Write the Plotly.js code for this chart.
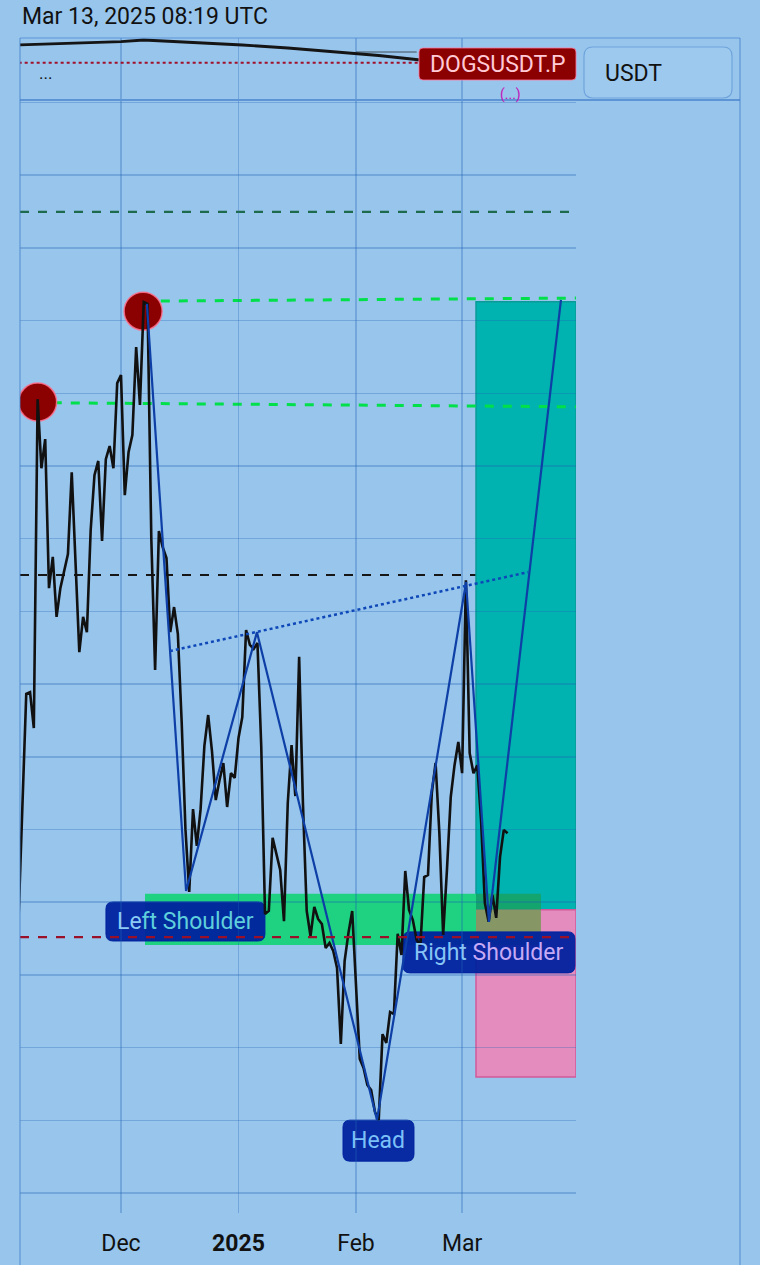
<!DOCTYPE html>
<html>
<head>
<meta charset="utf-8">
<script src="https://cdn.plot.ly/plotly-3.0.1.min.js"></script>
<style>
html,body{margin:0;padding:0;background:#98c5ec;}
#chart{width:760px;height:1265px;}
</style>
</head>
<body>
<div id="chart"></div>
<script>
// ---------- DATA (price in micro-USDT, i.e. x 1e-6) ----------
const dates = [
"2024-11-04","2024-11-06","2024-11-07","2024-11-08","2024-11-09","2024-11-10","2024-11-11","2024-11-12","2024-11-13","2024-11-14",
"2024-11-15","2024-11-17","2024-11-18","2024-11-20","2024-11-21","2024-11-22","2024-11-23","2024-11-24","2024-11-25","2024-11-26",
"2024-11-27","2024-11-28","2024-11-29","2024-11-30","2024-12-01","2024-12-02","2024-12-03","2024-12-04","2024-12-05","2024-12-06",
"2024-12-07","2024-12-08","2024-12-09","2024-12-10","2024-12-11","2024-12-12","2024-12-13","2024-12-14","2024-12-15","2024-12-16",
"2024-12-17","2024-12-18","2024-12-19","2024-12-20","2024-12-21","2024-12-22","2024-12-23","2024-12-24","2024-12-25","2024-12-26",
"2024-12-27","2024-12-28","2024-12-29","2024-12-30","2024-12-31","2025-01-01","2025-01-02","2025-01-03","2025-01-04","2025-01-05",
"2025-01-06","2025-01-07","2025-01-08","2025-01-09","2025-01-10","2025-01-12","2025-01-13","2025-01-14","2025-01-15","2025-01-16",
"2025-01-17","2025-01-18","2025-01-19","2025-01-20","2025-01-21","2025-01-22","2025-01-23","2025-01-24","2025-01-25","2025-01-26",
"2025-01-27","2025-01-28","2025-01-29","2025-01-30","2025-01-31","2025-02-01","2025-02-02","2025-02-03","2025-02-04","2025-02-05",
"2025-02-06","2025-02-07","2025-02-08","2025-02-09","2025-02-10","2025-02-11","2025-02-12","2025-02-13","2025-02-14","2025-02-15",
"2025-02-16","2025-02-17","2025-02-18","2025-02-19","2025-02-20","2025-02-21","2025-02-22","2025-02-23","2025-02-24","2025-02-25",
"2025-02-26","2025-02-27","2025-02-28","2025-03-01","2025-03-02","2025-03-03","2025-03-04","2025-03-05","2025-03-06","2025-03-07",
"2025-03-08","2025-03-09","2025-03-10","2025-03-11","2025-03-12","2025-03-13"];
const closes = [
176.5,237.3,237.8,227.9,318.4,299.4,307.4,266.4,275.0,258.5,
266.4,275.8,298.3,248.8,258.5,254.3,282.4,297.5,301.4,279.4,
301.9,305.5,299.4,322.8,325.0,292.0,303.9,308.5,332.7,316.8,
345.1,344.6,279.9,243.9,282.1,277.7,274.7,254.3,261.2,253.8,
229.8,200.1,182.8,205.6,195.5,205.6,223.0,231.5,221.6,208.1,
213.6,218.3,206.2,215.5,214.2,225.2,230.9,254.9,250.8,249.7,
251.3,223.0,176.8,177.6,197.7,188.9,174.8,207.3,223.2,209.2,
247.5,207.3,177.6,170.7,178.7,175.4,174.0,167.4,168.8,166.6,
161.9,141.0,163.8,171.5,177.6,158.0,136.9,134.4,129.7,128.3,
122.3,120.1,143.7,141.3,149.8,149.2,171.3,165.5,188.6,177.9,
175.1,169.6,168.2,186.9,187.5,210.0,218.3,199.0,171.0,188.9,
208.9,217.7,224.1,215.5,268.6,221.0,215.5,217.7,202.6,179.8,
174.6,182.0,175.7,192.4,199.9,199.0];

// pivot highs (red circles)
const pivotDates = ["2024-11-09","2024-12-06 20:00"];
const pivotValues = [317.6, 342.6];

// head & shoulders zigzag
const hsDates = ["2024-12-07 20:00","2024-12-18 04:00","2025-01-05 21:00","2025-02-06 13:00","2025-03-02 01:00","2025-03-08 02:00","2025-03-27 02:00"];
const hsValues = [344.6, 183.1, 254.3, 120.1, 268.1, 174.6, 345.7];

// neckline (dotted)
const neckDates = ["2024-12-13 22:00","2025-03-18 09:00"];
const neckValues = [249.1, 270.8];

// resistance lines (green dashed, slightly sloped)
const resUpperDates = ["2024-12-11 12:00","2025-03-31 01:00"];
const resUpperValues = [345.4, 346.2];
const resLowerDates = ["2024-11-13","2025-03-31 01:00"];
const resLowerValues = [317.4, 316.3];

// horizontal levels
const levelTop = 369.9;      // dark green dashed
const levelMid = 270.0;      // black dashed
const levelLow = 170.4;      // dark red dashed

// support zone (green box)
const zoneX = ["2024-12-07 08:00","2025-03-21 19:00"];
const zoneY = [168.2, 182.3];

// long position tool
const posX = ["2025-03-04 16:00","2025-03-31 01:12"];
const posTarget = 345.2;
const posEntry = 177.9;
const posStop = 131.9;

// pattern labels
const labelTexts = ["Left Shoulder","Right Shoulder","Head"];
const labelDates = ["2024-12-18 00:00","2025-03-08 02:00","2025-02-06 22:30"];
const labelValues = [174.7, 166.2, 114.4];

// navigator overview
const miniDates = ["2024-11-04","2024-11-15","2024-12-01","2024-12-07","2024-12-19","2025-01-02","2025-01-14","2025-01-27","2025-02-07","2025-02-18"];
const miniValues = [55, 56.5, 58.3, 60, 58, 55, 52, 48.3, 44.5, 40];

// axis ticks
const tickVals = ["2024-12-01","2025-01-01","2025-02-01","2025-03-01"];
const tickText = ["Dec","<b>2025</b>","Feb","Mar"];

// ---------- STYLE ----------
const BG = "#98c5ec";
const GRID = "rgba(30,100,180,0.3)";
const FONT = "Roboto, 'Noto Sans', sans-serif";

function rr(w,h,r){
  const a=w/2,b=h/2;
  return `M ${-a+r},${-b} L ${a-r},${-b} Q ${a},${-b} ${a},${-b+r} L ${a},${b-r} Q ${a},${b} ${a-r},${b} L ${-a+r},${b} Q ${-a},${b} ${-a},${b-r} L ${-a},${-b+r} Q ${-a},${-b} ${-a+r},${-b} Z`;
}

const traces = [
  {x: miniDates, y: miniValues, xaxis:"x2", yaxis:"y2", mode:"lines",
   line:{color:"#151515", width:2.8}, hoverinfo:"skip", showlegend:false},
  {x: pivotDates, y: pivotValues, mode:"markers",
   marker:{size:38, color:"#8b0000", line:{color:"rgba(255,110,140,0.85)", width:1.5}},
   hoverinfo:"skip", showlegend:false},
  {x: dates, y: closes, mode:"lines", line:{color:"#111111", width:2.6},
   showlegend:false, hoverinfo:"x+y"},
  {x: hsDates, y: hsValues, mode:"lines", line:{color:"#0d3fa6", width:2.2},
   showlegend:false, hoverinfo:"skip"},
  {x: neckDates, y: neckValues, mode:"lines", line:{color:"#0d47b8", width:2.5, dash:"dot"},
   showlegend:false, hoverinfo:"skip"}
];

const shapes = [];
// position tool boxes
shapes.push({type:"rect", xref:"x", yref:"y", x0:posX[0], x1:posX[1], y0:posEntry, y1:posTarget,
  fillcolor:"#00b2b0", line:{color:"#0a9a98", width:1.5}, layer:"below"});
shapes.push({type:"rect", xref:"x", yref:"y", x0:posX[0], x1:posX[1], y0:posStop, y1:posEntry,
  fillcolor:"#e48cbe", line:{color:"#cf5a9a", width:1.5}, layer:"below"});
// support zone, split where it overlaps the position boxes
const zoneSplit = posX[0];
shapes.push({type:"rect", xref:"x", yref:"y", x0:zoneX[0], x1:zoneSplit, y0:zoneY[0], y1:zoneY[1],
  fillcolor:"#1ed282", line:{width:0}, layer:"below"});
shapes.push({type:"rect", xref:"x", yref:"y", x0:zoneSplit, x1:zoneX[1], y0:Math.max(zoneY[0],posEntry), y1:zoneY[1],
  fillcolor:"#14a46e", line:{width:0}, layer:"below"});
shapes.push({type:"rect", xref:"x", yref:"y", x0:zoneSplit, x1:zoneX[1], y0:zoneY[0], y1:Math.min(zoneY[1],posEntry),
  fillcolor:"#869664", line:{width:0}, layer:"below"});
// label boxes
const boxW = [159, 172, 71], boxH = [39, 41, 41];
for (let i=0;i<labelTexts.length;i++){
  shapes.push({type:"path", xref:"x", yref:"y", xsizemode:"pixel", ysizemode:"pixel",
    xanchor:labelDates[i], yanchor:labelValues[i], path:rr(boxW[i],boxH[i],7),
    fillcolor:"rgba(0,34,158,0.95)", line:{color:"rgba(0,34,158,0.95)", width:1}, layer:"below"});
}
// levels
shapes.push({type:"line", xref:"x domain", yref:"y", x0:0, x1:1, y0:levelTop, y1:levelTop,
  line:{color:"#1d6a4c", width:2.2, dash:"dash"}, layer:"below"});
shapes.push({type:"line", xref:"x domain", yref:"y", x0:0, x1:1, y0:levelMid, y1:levelMid,
  line:{color:"#161616", width:2, dash:"dash"}, layer:"below"});
shapes.push({type:"line", xref:"x domain", yref:"y", x0:0, x1:1, y0:levelLow, y1:levelLow,
  line:{color:"#9a1028", width:2.2, dash:"dash"}, layer:"above"});
shapes.push({type:"line", xref:"x", yref:"y", x0:resUpperDates[0], x1:resUpperDates[1], y0:resUpperValues[0], y1:resUpperValues[1],
  line:{color:"#00e04a", width:3, dash:"dash"}, layer:"below"});
shapes.push({type:"line", xref:"x", yref:"y", x0:resLowerDates[0], x1:resLowerDates[1], y0:resLowerValues[0], y1:resLowerValues[1],
  line:{color:"#00e04a", width:3, dash:"dash"}, layer:"below"});
// navigator extras
shapes.push({type:"line", xref:"x2", yref:"y2", x0:miniDates[0], x1:miniDates[miniDates.length-1], y0:37.3, y1:37.3,
  line:{color:"#a0102a", width:2, dash:"dot"}});
shapes.push({type:"line", xref:"x2", yref:"y2", x0:"2025-02-01", x1:"2025-02-17", y0:48, y1:48,
  line:{color:"rgba(30,30,30,0.7)", width:1}});
// frame lines
shapes.push({type:"line", xref:"paper", yref:"paper", x0:0, x1:1, y0:1, y1:1, line:{color:"rgba(80,140,210,0.55)", width:1.5}});
shapes.push({type:"line", xref:"paper", yref:"paper", x0:0, x1:1, y0:0.94723, y1:0.94723, line:{color:"#5c94d6", width:2}});
shapes.push({type:"line", xref:"paper", yref:"paper", x0:0, x1:0, y0:-0.0443, y1:1, line:{color:"rgba(70,130,200,0.55)", width:1.5}});
shapes.push({type:"line", xref:"paper", yref:"paper", x0:1, x1:1, y0:-0.0443, y1:1, line:{color:"rgba(70,130,200,0.55)", width:1.5}});
// symbol tag & currency button
shapes.push({type:"path", xref:"paper", yref:"paper", xsizemode:"pixel", ysizemode:"pixel",
  xanchor:0.66319, yanchor:0.97787, path:rr(157,32,4), fillcolor:"#8b0000", line:{color:"rgba(255,120,160,0.8)", width:1}});
shapes.push({type:"path", xref:"paper", yref:"paper", xsizemode:"pixel", ysizemode:"pixel",
  xanchor:0.88611, yanchor:0.97064, path:rr(148,51,9), fillcolor:"rgba(160,204,240,0.6)", line:{color:"rgba(100,155,215,0.8)", width:1.2}});

const labelColors = [
  '<span style="color:#8ccaf5">Le</span><span style="color:#5fcfdc">ft Shoulder</span>',
  '<span style="color:#86c4f5">Right </span><span style="color:#c6aaf6">Shoulder</span>',
  '<span style="color:#7cc0f8">Head</span>'
];
const annotations = [];
for (let i=0;i<labelTexts.length;i++){
  annotations.push({x:labelDates[i], y:labelValues[i], xref:"x", yref:"y", text:labelColors[i] || labelTexts[i],
    showarrow:false, xanchor:"center", yanchor:"middle", font:{family:FONT, size:23, color:"#8ccaf5"}});
}
annotations.push({xref:"paper", yref:"paper", x:0, y:1.0187, xanchor:"left", yanchor:"middle",
  text:"Mar 13, 2025 08:19 UTC", showarrow:false, font:{family:FONT, size:23, color:"#111"}});
annotations.push({xref:"paper", yref:"paper", x:0.0354, y:0.9702, xanchor:"center", yanchor:"middle",
  text:"...", showarrow:false, font:{family:FONT, size:17, color:"#111"}});
annotations.push({xref:"paper", yref:"paper", x:0.66319, y:0.97787, xanchor:"center", yanchor:"middle",
  text:"DOGSUSDT.P", showarrow:false, font:{family:FONT, size:23, color:"#ffc9d6"}});
annotations.push({xref:"paper", yref:"paper", x:0.80972, y:0.9702, xanchor:"left", yanchor:"middle",
  text:"USDT", showarrow:false, font:{family:FONT, size:23, color:"#111"}});
annotations.push({xref:"paper", yref:"paper", x:0.68056, y:0.9515, xanchor:"center", yanchor:"middle",
  text:"(...)", showarrow:false, font:{family:FONT, size:14, color:"#c414b8"}});

const layout = {
  width:760, height:1265,
  margin:{l:20, r:20, t:38, b:52, pad:0},
  paper_bgcolor:BG, plot_bgcolor:BG,
  showlegend:false,
  font:{family:FONT, size:23, color:"#111"},
  xaxis:{type:"date", domain:[0,0.77222], anchor:"y",
    range:["2024-11-04 08:24","2025-03-31 01:12"],
    tickmode:"array", tickvals:tickVals, ticktext:tickText,
    showgrid:true, gridcolor:GRID, gridwidth:1.5, zeroline:false, showline:false,
    ticks:"outside", ticklen:9, tickcolor:"rgba(0,0,0,0)",
    tickfont:{family:FONT, size:23, color:"#111"}, automargin:false, fixedrange:true},
  yaxis:{domain:[0,0.94723], anchor:"x", range:[94.5,400.7],
    tick0:100, dtick:20, showgrid:true, gridcolor:GRID, gridwidth:1.5,
    showticklabels:false, zeroline:false, showline:false, ticks:"", automargin:false, fixedrange:true},
  xaxis2:{type:"date", domain:[0,1], anchor:"y2",
    range:["2024-11-04 08:24","2025-05-13 07:00"],
    tickmode:"array", tickvals:tickVals, showticklabels:false,
    showgrid:true, gridcolor:GRID, gridwidth:1.5, zeroline:false, showline:false, ticks:"", fixedrange:true},
  yaxis2:{domain:[0.94723,1], anchor:"x2", range:[0,62],
    showgrid:false, showticklabels:false, zeroline:false, showline:false, ticks:"", fixedrange:true},
  shapes:shapes,
  annotations:annotations
};

Plotly.newPlot("chart", traces, layout, {displayModeBar:false, staticPlot:true});
</script>
</body>
</html>
